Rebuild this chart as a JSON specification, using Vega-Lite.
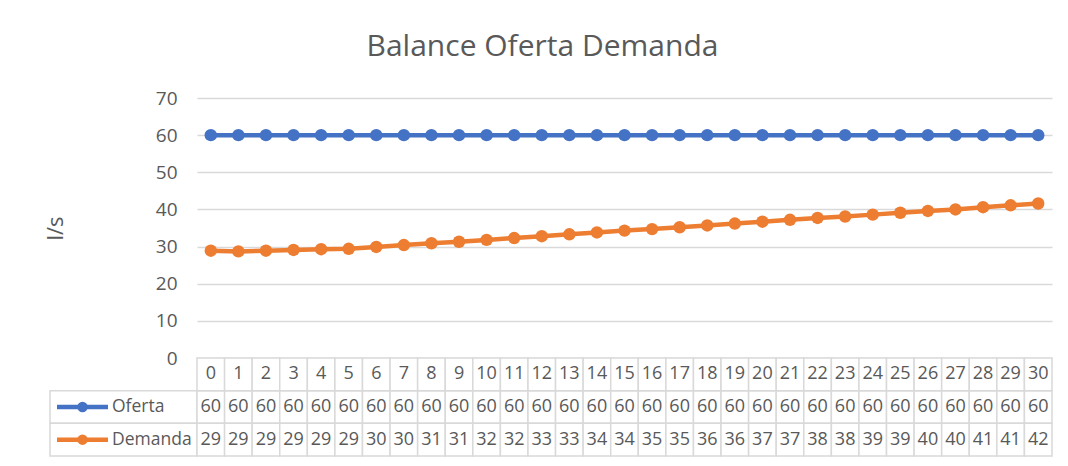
{
  "$schema": "https://vega.github.io/schema/vega-lite/v6.json",
  "background": "white",
  "padding": {"left": 44, "top": 32, "right": 16, "bottom": 7},
  "title": {"text": "Balance Oferta Demanda", "fontSize": 30, "font": "Open Sans", "fontWeight": "normal", "color": "#595959", "anchor": "middle", "offset": 27, "dx": -6},
  "datasets": {
    "series": [
      {"t": 0, "serie": "Oferta", "valor": 60}, {"t": 1, "serie": "Oferta", "valor": 60}, {"t": 2, "serie": "Oferta", "valor": 60}, {"t": 3, "serie": "Oferta", "valor": 60},
      {"t": 4, "serie": "Oferta", "valor": 60}, {"t": 5, "serie": "Oferta", "valor": 60}, {"t": 6, "serie": "Oferta", "valor": 60}, {"t": 7, "serie": "Oferta", "valor": 60},
      {"t": 8, "serie": "Oferta", "valor": 60}, {"t": 9, "serie": "Oferta", "valor": 60}, {"t": 10, "serie": "Oferta", "valor": 60}, {"t": 11, "serie": "Oferta", "valor": 60},
      {"t": 12, "serie": "Oferta", "valor": 60}, {"t": 13, "serie": "Oferta", "valor": 60}, {"t": 14, "serie": "Oferta", "valor": 60}, {"t": 15, "serie": "Oferta", "valor": 60},
      {"t": 16, "serie": "Oferta", "valor": 60}, {"t": 17, "serie": "Oferta", "valor": 60}, {"t": 18, "serie": "Oferta", "valor": 60}, {"t": 19, "serie": "Oferta", "valor": 60},
      {"t": 20, "serie": "Oferta", "valor": 60}, {"t": 21, "serie": "Oferta", "valor": 60}, {"t": 22, "serie": "Oferta", "valor": 60}, {"t": 23, "serie": "Oferta", "valor": 60},
      {"t": 24, "serie": "Oferta", "valor": 60}, {"t": 25, "serie": "Oferta", "valor": 60}, {"t": 26, "serie": "Oferta", "valor": 60}, {"t": 27, "serie": "Oferta", "valor": 60},
      {"t": 28, "serie": "Oferta", "valor": 60}, {"t": 29, "serie": "Oferta", "valor": 60}, {"t": 30, "serie": "Oferta", "valor": 60},
      {"t": 0, "serie": "Demanda", "valor": 28.9}, {"t": 1, "serie": "Demanda", "valor": 28.7}, {"t": 2, "serie": "Demanda", "valor": 28.9}, {"t": 3, "serie": "Demanda", "valor": 29.1},
      {"t": 4, "serie": "Demanda", "valor": 29.3}, {"t": 5, "serie": "Demanda", "valor": 29.4}, {"t": 6, "serie": "Demanda", "valor": 29.9}, {"t": 7, "serie": "Demanda", "valor": 30.4},
      {"t": 8, "serie": "Demanda", "valor": 30.9}, {"t": 9, "serie": "Demanda", "valor": 31.3}, {"t": 10, "serie": "Demanda", "valor": 31.8}, {"t": 11, "serie": "Demanda", "valor": 32.3},
      {"t": 12, "serie": "Demanda", "valor": 32.8}, {"t": 13, "serie": "Demanda", "valor": 33.3}, {"t": 14, "serie": "Demanda", "valor": 33.8}, {"t": 15, "serie": "Demanda", "valor": 34.3},
      {"t": 16, "serie": "Demanda", "valor": 34.7}, {"t": 17, "serie": "Demanda", "valor": 35.2}, {"t": 18, "serie": "Demanda", "valor": 35.7}, {"t": 19, "serie": "Demanda", "valor": 36.2},
      {"t": 20, "serie": "Demanda", "valor": 36.7}, {"t": 21, "serie": "Demanda", "valor": 37.2}, {"t": 22, "serie": "Demanda", "valor": 37.7}, {"t": 23, "serie": "Demanda", "valor": 38.1},
      {"t": 24, "serie": "Demanda", "valor": 38.6}, {"t": 25, "serie": "Demanda", "valor": 39.1}, {"t": 26, "serie": "Demanda", "valor": 39.6}, {"t": 27, "serie": "Demanda", "valor": 40.0},
      {"t": 28, "serie": "Demanda", "valor": 40.6}, {"t": 29, "serie": "Demanda", "valor": 41.1}, {"t": 30, "serie": "Demanda", "valor": 41.6}
    ]
  },
  "columns": 2,
  "spacing": 0,
  "bounds": "flush",
  "align": "each",
  "concat": [
    {
      "width": 147, "height": 260,
      "data": {"values": [{}]},
      "mark": {"type": "text"},
      "encoding": {"text": {"value": ""}}
    },
    {
      "width": 855, "height": 260,
      "data": {"name": "series"},
      "mark": {"type": "line", "strokeWidth": 4.5, "point": {"filled": true, "size": 155, "opacity": 1}},
      "encoding": {
        "x": {"field": "t", "type": "ordinal", "scale": {"type": "point", "padding": 0.5}, "axis": null},
        "y": {"field": "valor", "type": "quantitative", "scale": {"domain": [0, 70]},
          "axis": {"values": [0, 10, 20, 30, 40, 50, 60, 70], "title": "l/s", "titleFontSize": 22, "titleFontWeight": "normal", "titleColor": "#595959",
            "labelFontSize": 19, "labelColor": "#595959", "ticks": false, "domain": false, "gridColor": "#d9d9d9", "gridWidth": 1.3, "labelPadding": 20, "titlePadding": 88}},
        "color": {"field": "serie", "type": "nominal", "scale": {"domain": ["Oferta", "Demanda"], "range": ["#4472c4", "#ed7d31"]}, "legend": null}
      }
    },
    {
      "width": 147, "height": 98,
      "data": {"values": [{"serie": "Oferta"}, {"serie": "Demanda"}]},
      "encoding": {"y": {"field": "serie", "type": "nominal", "scale": {"domain": ["header", "Oferta", "Demanda"], "paddingInner": 0, "paddingOuter": 0}, "axis": null}},
      "layer": [
        {"mark": {"type": "rect", "fill": "white", "stroke": "#d9d9d9", "strokeWidth": 1.5}},
        {"mark": {"type": "point", "shape": "M-1,0L1,0", "size": 2601, "strokeWidth": 4.5, "filled": false, "opacity": 1, "xOffset": -41},
          "encoding": {"color": {"field": "serie", "type": "nominal", "scale": {"domain": ["Oferta", "Demanda"], "range": ["#4472c4", "#ed7d31"]}, "legend": null}}},
        {"mark": {"type": "point", "shape": "circle", "size": 110, "filled": true, "opacity": 1, "xOffset": -41},
          "encoding": {"color": {"field": "serie", "type": "nominal", "scale": {"domain": ["Oferta", "Demanda"], "range": ["#4472c4", "#ed7d31"]}, "legend": null}}},
        {"mark": {"type": "text", "align": "left", "baseline": "middle", "dx": -11.5, "fontSize": 17.5, "color": "#595959", "font": "Open Sans"},
          "encoding": {"text": {"field": "serie"}}}
      ]
    },
    {
      "width": 855, "height": 98,
      "data": {"name": "series"},
      "encoding": {"x": {"field": "t", "type": "ordinal", "scale": {"type": "band", "paddingInner": 0, "paddingOuter": 0}, "axis": null}},
      "layer": [
        {"mark": {"type": "rect", "fill": "white", "stroke": "#d9d9d9", "strokeWidth": 1.5},
          "encoding": {"y": {"field": "serie", "type": "nominal", "scale": {"domain": ["header", "Oferta", "Demanda"], "paddingInner": 0, "paddingOuter": 0}, "axis": null}}},
        {"transform": [{"filter": "datum.serie === 'Oferta'"}],
          "mark": {"type": "rect", "fill": "white", "stroke": "#d9d9d9", "strokeWidth": 1.5},
          "encoding": {"y": {"datum": "header", "type": "nominal"}}},
        {"mark": {"type": "text", "baseline": "middle", "fontSize": 18, "color": "#595959", "font": "Open Sans"},
          "encoding": {"y": {"field": "serie", "type": "nominal"}, "text": {"field": "valor", "type": "quantitative", "format": ".0f"}}},
        {"transform": [{"filter": "datum.serie === 'Oferta'"}],
          "mark": {"type": "text", "baseline": "middle", "fontSize": 18, "color": "#595959", "font": "Open Sans"},
          "encoding": {"y": {"datum": "header", "type": "nominal"}, "text": {"field": "t", "type": "ordinal"}}}
      ]
    }
  ],
  "config": {
    "view": {"stroke": null},
    "font": "Open Sans",
    "axis": {"labelFont": "Open Sans", "titleFont": "Open Sans"}
  }
}
